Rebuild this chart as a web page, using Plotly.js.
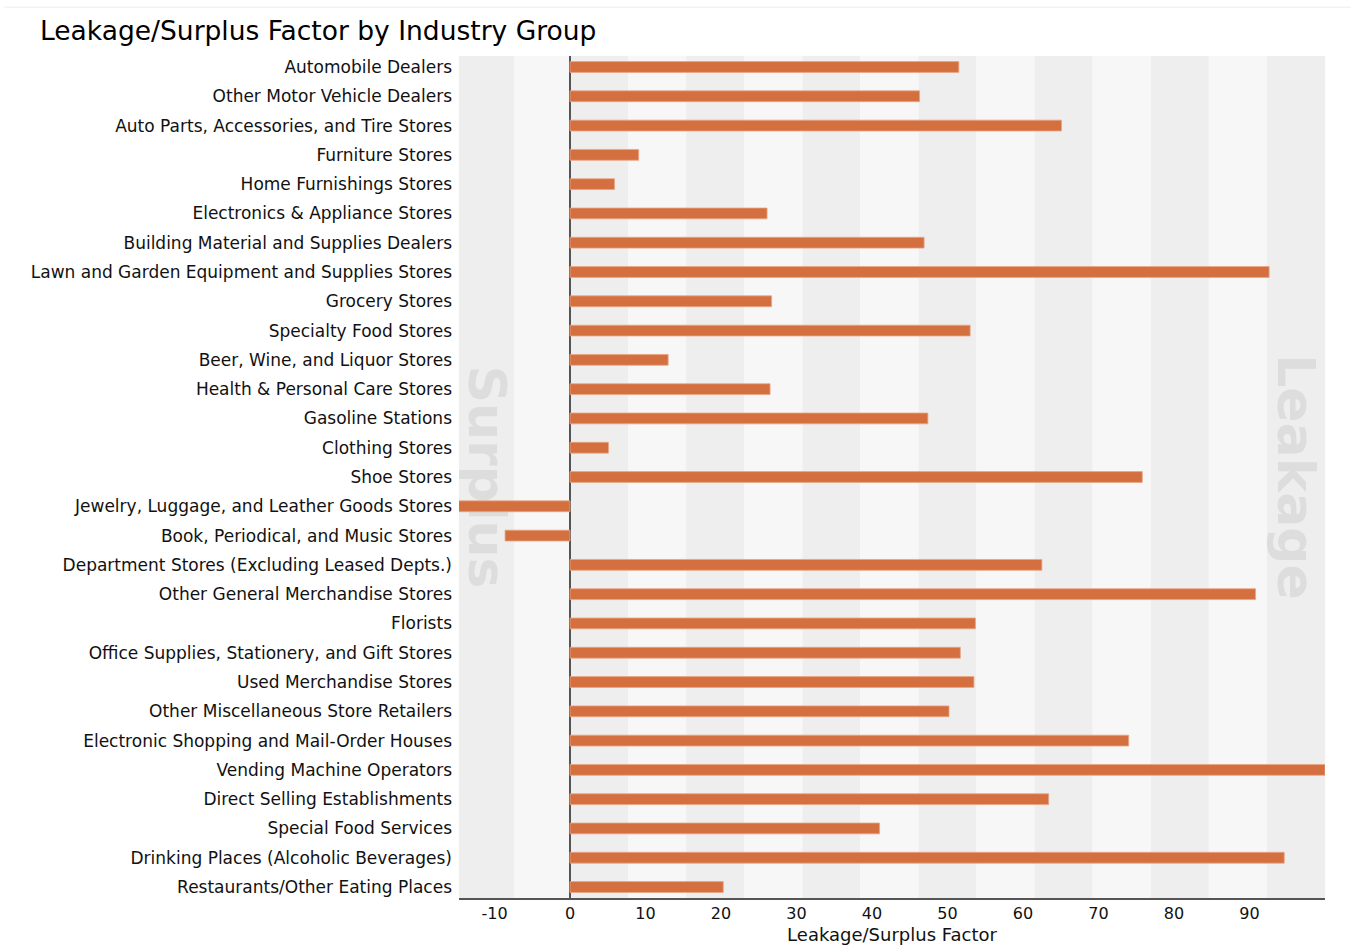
<!DOCTYPE html>
<html>
<head>
<meta charset="utf-8">
<script src="https://cdn.plot.ly/plotly-3.0.1.min.js"></script>
<style>html,body{margin:0;padding:0;background:#fff;}#chart{width:1351px;height:945px;}</style>
</head>
<body>
<div id="chart"></div>
<script>
const categories = [
  "Automobile Dealers",
  "Other Motor Vehicle Dealers",
  "Auto Parts, Accessories, and Tire Stores",
  "Furniture Stores",
  "Home Furnishings Stores",
  "Electronics & Appliance Stores",
  "Building Material and Supplies Dealers",
  "Lawn and Garden Equipment and Supplies Stores",
  "Grocery Stores",
  "Specialty Food Stores",
  "Beer, Wine, and Liquor Stores",
  "Health & Personal Care Stores",
  "Gasoline Stations",
  "Clothing Stores",
  "Shoe Stores",
  "Jewelry, Luggage, and Leather Goods Stores",
  "Book, Periodical, and Music Stores",
  "Department Stores (Excluding Leased Depts.)",
  "Other General Merchandise Stores",
  "Florists",
  "Office Supplies, Stationery, and Gift Stores",
  "Used Merchandise Stores",
  "Other Miscellaneous Store Retailers",
  "Electronic Shopping and Mail-Order Houses",
  "Vending Machine Operators",
  "Direct Selling Establishments",
  "Special Food Services",
  "Drinking Places (Alcoholic Beverages)",
  "Restaurants/Other Eating Places"
];
const factorValues = [
  51.5, 46.3, 65.1, 9.1, 5.9, 26.1, 46.9, 92.6, 26.7, 53.0,
  13.0, 26.5, 47.4, 5.1, 75.8, -14.8, -8.6, 62.5, 90.8, 53.7,
  51.7, 53.5, 50.2, 74.0, 100, 63.4, 41.0, 94.6, 20.3
];
const xTickValues = [-10, 0, 10, 20, 30, 40, 50, 60, 70, 80, 90];
const xTickLabels = ["-10", "0", "10", "20", "30", "40", "50", "60", "70", "80", "90"];
const watermarkLabels = ["Surplus", "Leakage"];

const xMin = -14.7, xMax = 100;
const nLeak = 13, nSurp = 2;

// background bands
const shapes = [];
for (let i = 0; i < nSurp; i++) {
  const w = -xMin / nSurp;
  shapes.push({type:'rect', xref:'x', yref:'paper', x0:xMin + i*w, x1:xMin + (i+1)*w, y0:0, y1:1,
    fillcolor: i % 2 === 0 ? '#eeeeee' : '#f7f7f7', line:{width:0}, layer:'below'});
}
for (let i = 0; i < nLeak; i++) {
  const w = xMax / nLeak;
  shapes.push({type:'rect', xref:'x', yref:'paper', x0:i*w, x1:(i+1)*w, y0:0, y1:1,
    fillcolor: i % 2 === 0 ? '#eeeeee' : '#f7f7f7', line:{width:0}, layer:'below'});
}
shapes.push({type:'line', xref:'paper', yref:'paper', x0:-0.525, x1:1.03, y0:1.058, y1:1.058,
  line:{color:'#ececec', width:1}});

const midCat = categories[14];
const wmW = xMax / nLeak;
const watermark = {
  type:'bar', orientation:'h',
  y:[midCat, midCat],
  x:[-xMin / nSurp, wmW],
  base:[xMin, xMax - wmW],
  width:[20, 20],
  text: watermarkLabels,
  textposition:'inside',
  insidetextanchor:'middle',
  textangle:90,
  constraintext:'none',
  textfont:{family:'DejaVu Sans, Verdana, sans-serif', size:52, color:'#dddddd', weight:'bold'},
  marker:{color:'rgba(0,0,0,0)', line:{width:0}},
  hoverinfo:'skip', showlegend:false
};

const bars = {
  type:'bar', orientation:'h',
  y: categories,
  x: factorValues,
  width: 0.37,
  marker:{color:'#d4703f', line:{color:'#eaa585', width:0.8}},
  showlegend:false
};

const layout = {
  width:1351, height:945,
  margin:{l:459, r:26, t:56, b:47},
  paper_bgcolor:'#ffffff',
  plot_bgcolor:'rgba(0,0,0,0)',
  barmode:'overlay',
  font:{family:'DejaVu Sans, Verdana, sans-serif', color:'#111111'},
  title:{text:'Leakage/Surplus Factor by Industry Group', x:40/1351, xref:'container', xanchor:'left',
    y:1-31/945, yanchor:'middle', font:{size:26.5, color:'#000000', family:'DejaVu Sans, Verdana, sans-serif'}},
  xaxis:{range:[xMin, xMax], tickvals:xTickValues, ticktext:xTickLabels, showgrid:false,
    zeroline:true, zerolinecolor:'#555555', zerolinewidth:1.5,
    showline:true, linecolor:'#555555', linewidth:1.5, ticks:'',
    tickfont:{size:16, color:'#111111'},
    title:{text:'Leakage/Surplus Factor', font:{size:18, color:'#111111'}, standoff:9}},
  yaxis:{type:'category', categoryorder:'array', categoryarray:categories,
    range:[categories.length - 1 + 0.375, -0.375], showgrid:false, zeroline:false, showline:false,
    ticks:'', tickfont:{size:17, color:'#111111'}, ticklabelstandoff:6},
  shapes: shapes
};

Plotly.newPlot('chart', [watermark, bars], layout, {displayModeBar:false, staticPlot:true});
</script>
</body>
</html>
